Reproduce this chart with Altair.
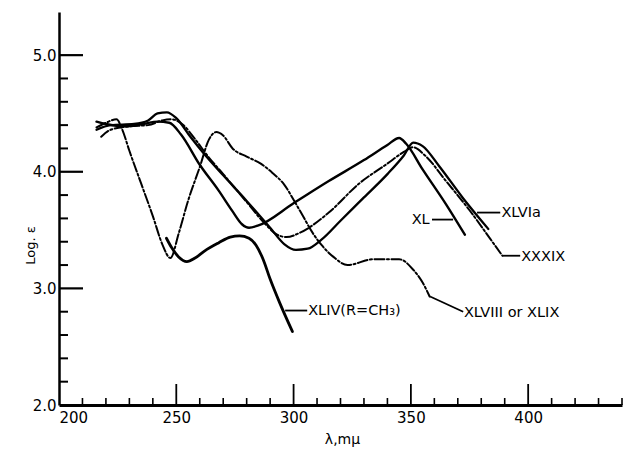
import altair as alt
import pandas as pd

# ---------------- data ----------------
xl_x = [216, 220, 228, 236, 242, 247, 252, 260, 268, 274, 278, 281, 285, 300, 315, 330, 340, 345, 348, 355, 365, 373]
xl_y = [4.43, 4.41, 4.39, 4.41, 4.43, 4.42, 4.32, 4.06, 3.84, 3.66, 3.55, 3.52, 3.54, 3.73, 3.92, 4.10, 4.23, 4.29, 4.24, 4.02, 3.72, 3.46]

xlvia_x = [216, 222, 232, 238, 242, 246, 250, 256, 262, 270, 280, 290, 296, 301, 306, 312, 320, 330, 340, 347, 351, 355, 362, 372, 383]
xlvia_y = [4.36, 4.40, 4.41, 4.44, 4.50, 4.51, 4.46, 4.30, 4.15, 3.97, 3.75, 3.52, 3.38, 3.33, 3.34, 3.42, 3.58, 3.78, 3.98, 4.14, 4.25, 4.22, 4.05, 3.78, 3.51]

xxxix_x = [218, 222, 230, 238, 244, 248, 253, 258, 264, 270, 280, 288, 293, 297, 303, 315, 328, 340, 347, 351, 356, 365, 375, 384, 389]
xxxix_y = [4.30, 4.36, 4.39, 4.40, 4.44, 4.45, 4.40, 4.28, 4.12, 3.98, 3.74, 3.55, 3.46, 3.44, 3.48, 3.65, 3.90, 4.07, 4.17, 4.21, 4.14, 3.92, 3.67, 3.42, 3.28]

xlviii_x = [216, 220, 224.5, 227, 230, 235, 240, 244, 247.5, 251, 255, 260, 264, 267, 270, 274, 280, 286, 291, 296, 300, 304, 308, 312, 317, 323, 334, 345, 351, 355, 358]
xlviii_y = [4.38, 4.42, 4.45, 4.36, 4.18, 3.90, 3.62, 3.38, 3.26, 3.47, 3.75, 4.04, 4.28, 4.34, 4.31, 4.20, 4.13, 4.07, 3.99, 3.89, 3.76, 3.62, 3.48, 3.37, 3.27, 3.20, 3.25, 3.25, 3.16, 3.05, 2.93]

xliv_x = [245.8, 248, 251, 254.5, 258, 262, 268, 273, 277, 281, 284, 287, 290, 294, 299.5]
xliv_y = [3.43, 3.35, 3.27, 3.23, 3.26, 3.32, 3.39, 3.44, 3.45, 3.43, 3.37, 3.25, 3.08, 2.88, 2.63]

# curve labels and their leader lines (data coordinates)
label_text = ["XL", "XLVIa", "XXXIX", "XLVIII or XLIX", "XLIV(R=CH\u2083)"]
label_x = [358.0, 388.6, 397.0, 372.6, 306.2]
label_y = [3.59, 3.65, 3.27, 2.79, 2.81]
label_align = ["right", "left", "left", "left", "left"]
leader_x1 = [359.0, 378.2, 389.0, 358.2, 296.4]
leader_x2 = [368.0, 388.1, 396.6, 372.3, 305.8]
leader_y1 = [3.59, 3.65, 3.28, 2.93, 2.81]
leader_y2 = [3.59, 3.65, 3.28, 2.80, 2.81]

# axis tick positions
x_major_ticks = [250, 300, 350, 400]
x_minor_ticks = [210, 220, 230, 240, 260, 270, 280, 290, 310, 320, 330, 340,
                 360, 370, 380, 390, 410, 420, 430, 440]
y_major_ticks = [3.0, 4.0, 5.0]
y_minor_ticks = [2.2, 2.4, 2.6, 2.8, 3.2, 3.4, 3.6, 3.8, 4.2, 4.4, 4.6, 4.8]
x_labels = [200, 250, 300, 350, 400]
y_labels = [2.0, 3.0, 4.0, 5.0]

# ---------------- chart ----------------
W, H = 563, 393
FONT = "DejaVu Sans"

xs = alt.Scale(domain=[200, 440], nice=False, zero=False)
ys = alt.Scale(domain=[2.0, 5.37], nice=False, zero=False)

xaxis = alt.Axis(values=x_labels, ticks=False, grid=False, domainWidth=3,
                 domainColor="black", labelFont=FONT, labelFontSize=15,
                 labelColor="black", labelPadding=5, labelFlush=True,
                 title="\u03bb,m\u03bc", titleFont=FONT, titleFontSize=14,
                 titleFontWeight="normal", titleColor="black",
                 titleX=283, titleY=41, titleBaseline="bottom")
yaxis = alt.Axis(values=y_labels, format=".1f", ticks=False, grid=False,
                 domainWidth=2.5, domainColor="black", labelFont=FONT,
                 labelFontSize=15, labelColor="black", labelPadding=3,
                 title="Log. \u03b5", titleFont=FONT, titleFontSize=13,
                 titleFontWeight="normal", titleColor="black", titleAngle=270,
                 titleX=-29, titleY=233, titleBaseline="middle", titleAlign="center")


def X(field):
    return alt.X(field, type="quantitative", scale=xs, axis=xaxis)


def Y(field):
    return alt.Y(field, type="quantitative", scale=ys, axis=yaxis)


def curve(xv, yv, width, dash=None):
    df = pd.DataFrame({"x": xv, "y": yv})
    kw = dict(color="black", strokeWidth=width, interpolate="monotone",
              strokeCap="round", strokeJoin="round")
    if dash:
        kw["strokeDash"] = dash
    return alt.Chart(df).mark_line(**kw).encode(x=X("x"), y=Y("y"), order="x:Q")


layers = [
    curve(xl_x, xl_y, 2.4),
    curve(xlvia_x, xlvia_y, 2.3),
    curve(xxxix_x, xxxix_y, 2.0, [9, 2.5, 2, 2.5]),
    curve(xlviii_x, xlviii_y, 2.0, [10, 2.5, 2, 2.5]),
    curve(xliv_x, xliv_y, 2.8),
]

leaders = pd.DataFrame({"x": leader_x1, "x2": leader_x2, "y": leader_y1, "y2": leader_y2})
layers.append(alt.Chart(leaders).mark_rule(color="black", strokeWidth=1.8).encode(
    x=X("x"), x2="x2:Q", y=Y("y"), y2="y2:Q"))

labels = pd.DataFrame({"x": label_x, "y": label_y, "t": label_text, "a": label_align})
for al in ["left", "right"]:
    layers.append(alt.Chart(labels[labels["a"] == al]).mark_text(
        align=al, baseline="middle", font=FONT, fontSize=14.5, color="black").encode(
        x=X("x"), y=Y("y"), text="t:N"))

# axis ticks pointing inward
layers.append(alt.Chart(pd.DataFrame({"v": x_minor_ticks})).mark_rule(color="black", strokeWidth=1.6).encode(
    x=X("v"), y=alt.value(H), y2=alt.value(H - 7)))
layers.append(alt.Chart(pd.DataFrame({"v": x_major_ticks})).mark_rule(color="black", strokeWidth=1.8).encode(
    x=X("v"), y=alt.value(H), y2=alt.value(H - 21)))
layers.append(alt.Chart(pd.DataFrame({"v": y_minor_ticks})).mark_rule(color="black", strokeWidth=2).encode(
    y=Y("v"), x=alt.value(0), x2=alt.value(9)))
layers.append(alt.Chart(pd.DataFrame({"v": y_major_ticks})).mark_rule(color="black", strokeWidth=2.2).encode(
    y=Y("v"), x=alt.value(0), x2=alt.value(24)))

chart = alt.layer(*layers).properties(
    width=W, height=H,
    padding={"left": 51, "top": 4, "right": 2, "bottom": 42},
    autosize=alt.AutoSizeParams(type="none"),
    background="white",
).configure_view(strokeWidth=0)

chart.save("out.html", embed_options={"renderer": "svg", "actions": False})
